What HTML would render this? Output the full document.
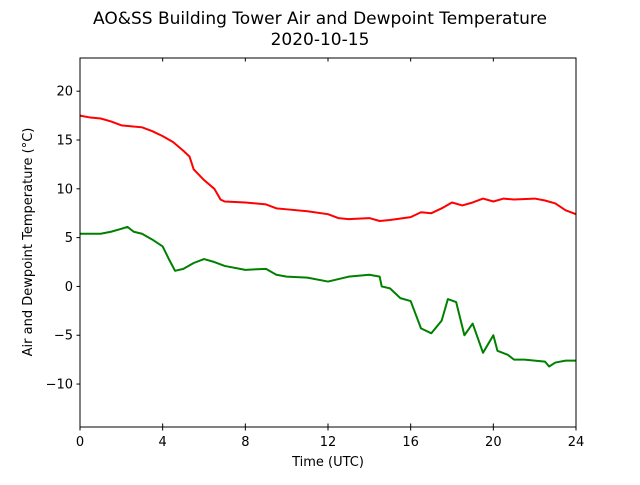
<!DOCTYPE html>
<html><head><meta charset="utf-8"><style>
body{margin:0;background:#fff}
text{font-family:"DejaVu Sans","Liberation Sans",sans-serif;fill:#000}
</style></head><body>
<svg id="chart" width="640" height="480" xmlns="http://www.w3.org/2000/svg">
<text x="320" y="24" font-size="17" text-anchor="middle">AO&amp;SS Building Tower Air and Dewpoint Temperature</text>
<text x="320" y="45" font-size="17" text-anchor="middle">2020-10-15</text>
<g id="plot"></g>
<text x="328" y="466" font-size="13" text-anchor="middle">Time (UTC)</text>
<text transform="translate(32,242) rotate(-90)" font-size="13" text-anchor="middle">Air and Dewpoint Temperature (°C)</text>
</svg>
<script>
const airHours=[0,0.5,1,1.5,2,2.5,3,3.5,4,4.5,5,5.3,5.5,6,6.5,6.8,7,8,9,9.5,10,11,12,12.5,13,14,14.5,15,16,16.5,17,17.5,18,18.5,19,19.5,20,20.5,21,22,22.5,23,23.5,24];
const airTemp=[17.5,17.3,17.2,16.9,16.5,16.4,16.3,15.9,15.4,14.8,13.9,13.3,12.0,10.9,10.0,8.9,8.7,8.6,8.4,8.0,7.9,7.7,7.4,7.0,6.9,7.0,6.7,6.8,7.1,7.6,7.5,8.0,8.6,8.3,8.6,9.0,8.7,9.0,8.9,9.0,8.8,8.5,7.8,7.4];
const dewHours=[0,1,1.5,2,2.3,2.6,3,3.5,4,4.3,4.6,5,5.5,6,6.5,7,8,9,9.5,10,11,12,13,14,14.5,14.6,15,15.5,16,16.5,17,17.5,17.8,18.2,18.6,19,19.3,19.5,20,20.2,20.7,21,21.5,22,22.5,22.7,23,23.5,24];
const dewTemp=[5.4,5.4,5.6,5.9,6.1,5.6,5.4,4.8,4.1,2.8,1.6,1.8,2.4,2.8,2.5,2.1,1.7,1.8,1.2,1.0,0.9,0.5,1.0,1.2,1.0,0.0,-0.2,-1.2,-1.5,-4.3,-4.8,-3.5,-1.3,-1.6,-5.0,-3.8,-5.6,-6.8,-5.0,-6.6,-7.0,-7.5,-7.5,-7.6,-7.7,-8.2,-7.8,-7.6,-7.6];
const xTicks=[0,4,8,12,16,20,24];
const yTicks=[-10,-5,0,5,10,15,20];
const L=80,R=576,T=58,B=427,yMin=-14.4,yMax=23.4;
const xs=h=>L+(h/24)*(R-L);
const ys=v=>B-(v-yMin)/(yMax-yMin)*(B-T);
const NS='http://www.w3.org/2000/svg';
const plot=document.getElementById('plot');
function mk(tag,attrs){const e=document.createElementNS(NS,tag);for(const k in attrs)e.setAttribute(k,attrs[k]);plot.appendChild(e);return e;}
function line(hs,vs,color,name){
  const e=mk('polyline',{points:hs.map((h,i)=>xs(h)+','+ys(vs[i])).join(' '),fill:'none',stroke:color,'stroke-width':2,'stroke-linejoin':'round'});
  
  
}
line(airHours,airTemp,'#ff0000','air-temperature-line');
line(dewHours,dewTemp,'#008000','dewpoint-temperature-line');
const frame=mk('rect',{x:L,y:T,width:R-L,height:B-T,fill:'none',stroke:'#000','stroke-width':1});


xTicks.forEach(t=>{
  const x=xs(t);
  const a=mk('line',{x1:x,x2:x,y1:B-3.5,y2:B+3.5,stroke:'#000'});
  
  
  const b=mk('line',{x1:x,x2:x,y1:T,y2:T+3.5,stroke:'#000'});
  
  
  const tx=mk('text',{x:x,y:B+19,'font-size':13,'text-anchor':'middle'});
  tx.textContent=t;
  
  
});
yTicks.forEach(t=>{
  const y=ys(t);
  const a=mk('line',{x1:L-3.5,x2:L,y1:y,y2:y,stroke:'#000'});
  
  
  const tx=mk('text',{x:L-7,y:y+4.5,'font-size':13,'text-anchor':'end'});
  tx.textContent=t<0?'\u2212'+Math.abs(t):t;
  
  
});
</script>
</body></html>
